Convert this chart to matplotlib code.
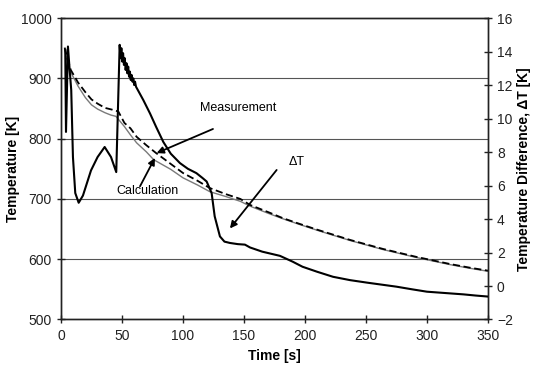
import numpy as np
import matplotlib
matplotlib.use("Agg")
import matplotlib.pyplot as plt

plt.rcParams['font.family'] = ['Liberation Sans', 'DejaVu Sans']

# measured temperature [K] (dashed)
t_meas = [3, 5, 8, 14, 20, 25, 30, 36, 42, 47, 52, 57, 62, 70, 78, 90, 100, 112, 122,
          135, 147, 155, 170, 182, 195, 210, 237, 264, 291, 319, 335, 350]
T_meas = [951, 935, 914, 893, 877, 865, 858, 851, 848, 845, 826, 817, 803, 789, 776, 758, 743, 730, 718,
          708, 700, 690, 678, 668, 659, 649, 632, 617, 604, 592, 586, 581]

# calculated temperature [K] (thin grey)
t_calc = [3, 5, 7, 14, 20, 25, 30, 36, 41, 45, 52, 57, 62, 70, 76, 90, 100, 112, 122,
          135, 147, 155, 170, 182, 195, 210, 237, 264, 291, 319, 335, 350]
T_calc = [948, 930, 914, 887, 868, 856, 849, 843, 839, 837, 820, 806, 793, 778, 765, 749, 735, 723, 712,
          704, 696, 688, 676, 667, 658, 648, 631, 616, 603, 591, 585, 580]

# temperature difference dT [K] (thick black, right axis)
t_dT = [3.5, 4.1, 5.7, 7.0, 8.4, 9.8, 11.7, 14.5, 18, 24.6, 30, 35.8, 41, 45.3, 48.1,
        48.8, 49.5, 50.2, 50.9, 51.6, 52.3, 53.0, 53.7, 54.4, 55.1, 55.8, 56.5, 57.2, 57.9,
        58.6, 59.3, 60.0, 60.7, 61.5,
        64.5, 67.5, 73, 78, 83.9, 90, 97.5, 104, 111, 116, 119.4, 123.5, 126, 130.3, 134, 138.5, 145, 150.8,
        155, 165, 179.5, 190, 198, 210, 223, 237, 251, 263, 275, 288, 300, 315, 330, 340, 350]
dT = [14.1, 9.2, 14.3, 13.0, 11.7, 7.7, 5.55, 4.97, 5.4, 6.9, 7.7, 8.3, 7.7, 6.8, 14.4,
      13.6, 14.2, 13.4, 13.9, 13.2, 13.6, 12.9, 13.3, 12.7, 13.1, 12.5, 12.8, 12.3, 12.6,
      12.2, 12.4, 12.0, 12.2, 11.9,
      11.5, 11.1, 10.3, 9.5, 8.6, 7.9, 7.34, 7.0, 6.74, 6.45, 6.24, 5.55, 4.16, 2.96, 2.65, 2.57, 2.5, 2.47,
      2.3, 2.05, 1.8, 1.45, 1.15, 0.85, 0.55, 0.35, 0.2, 0.08, -0.04, -0.2, -0.34, -0.42, -0.5, -0.57, -0.63]

fig = plt.figure(figsize=(5.47, 3.68), dpi=100)
ax = fig.add_axes([0.1115, 0.1318, 0.7805, 0.8192])
ax2 = ax.twinx()

for y in [600, 700, 800, 900]:
    ax.axhline(y, color='#555555', lw=0.8, zorder=0)

ax.plot(t_calc, T_calc, color='#7a7a7a', lw=1.0, zorder=2)
ax.plot(t_meas, T_meas, color='black', lw=1.3, ls=(0, (4, 2)), zorder=3)
ax2.plot(t_dT, dT, color='black', lw=1.5, zorder=4)

ax.set_xlim(0, 350)
ax.set_ylim(500, 1000)
ax2.set_ylim(-2, 16)
ax.set_xticks(np.arange(0, 351, 50))
ax.set_yticks(np.arange(500, 1001, 100))
ax2.set_yticks(np.arange(-2, 17, 2))

for a in (ax, ax2):
    a.tick_params(direction='inout', length=6, width=1, labelsize=10, colors='#222222')
    for s in a.spines.values():
        s.set_color('#222222')
        s.set_linewidth(1.0)

ax.set_xlabel('Time [s]', fontsize=10, fontweight='bold', labelpad=5)
ax.set_ylabel('Temperature [K]', fontsize=10, fontweight='bold', labelpad=1)
ax2.set_ylabel('Temperature Difference, ΔT [K]', fontsize=10, fontweight='bold', labelpad=3)

arrow = dict(arrowstyle='-|>', color='black', lw=1.3, mutation_scale=10, shrinkA=0, shrinkB=0)
ax.annotate('', xy=(78.4, 776), xytext=(124.6, 816), arrowprops=arrow, zorder=5)
ax.text(145, 851, 'Measurement', fontsize=9, ha='center', va='center')
ax.annotate('', xy=(77, 768), xytext=(64.8, 721), arrowprops=arrow, zorder=5)
ax.text(71.3, 713, 'Calculation', fontsize=9, ha='center', va='center')
ax.annotate('', xy=(138.5, 651), xytext=(176.8, 748), arrowprops=arrow, zorder=5)
ax.text(193, 762, 'ΔT', fontsize=9, ha='center', va='center')

fig.savefig('out.png', dpi=100)
